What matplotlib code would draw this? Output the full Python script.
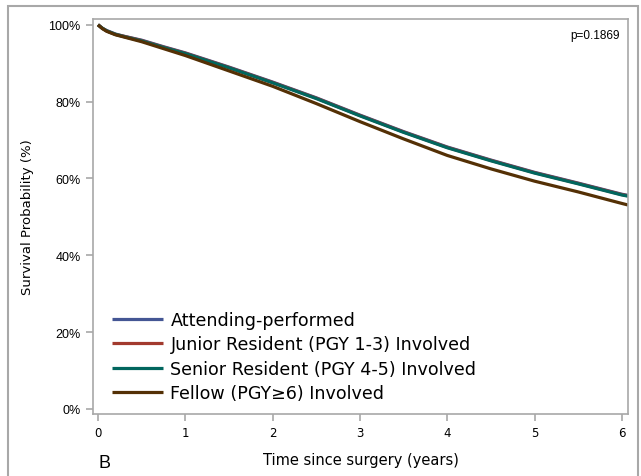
import matplotlib
matplotlib.use("Agg")
import matplotlib.pyplot as plt
from matplotlib.patches import Rectangle

# survival estimates (percent)
years = [0, 0.05, 0.1, 0.2, 0.3, 0.5, 0.75, 1.0, 1.5, 2.0, 2.5, 3.0, 3.5, 4.0, 4.5, 5.0, 5.5, 6.0, 6.07]
attending = [100, 99.1, 98.5, 97.6, 97.0, 96.0, 94.3, 92.7, 89.0, 85.1, 81.0, 76.5, 72.2, 68.2, 64.8, 61.6, 58.8, 55.9, 55.6]
junior = [100, 99.1, 98.4, 97.5, 97.0, 95.9, 94.2, 92.6, 88.9, 85.0, 80.9, 76.4, 72.1, 68.1, 64.7, 61.5, 58.7, 55.8, 55.5]
senior = [100, 99.1, 98.4, 97.5, 96.9, 95.8, 94.1, 92.5, 88.8, 84.9, 80.8, 76.3, 72.0, 68.0, 64.6, 61.4, 58.6, 55.7, 55.4]
fellow = [100, 99.0, 98.3, 97.4, 96.8, 95.6, 93.8, 92.0, 88.0, 84.0, 79.5, 74.8, 70.3, 66.0, 62.5, 59.3, 56.5, 53.5, 53.1]

labels = ["Attending-performed", "Junior Resident (PGY 1-3) Involved",
          "Senior Resident (PGY 4-5) Involved", "Fellow (PGY\u22656) Involved"]
colors = ["#445694", "#A23A2E", "#01665E", "#543005"]
xticks = [0, 1, 2, 3, 4, 5, 6]
yticks = [0, 20, 40, 60, 80, 100]
p_text = "p=0.1869"

fig = plt.figure(figsize=(6.41, 4.77), dpi=100)
fig.patches.append(Rectangle((0.0125, -0.02), 0.983, 1.005, transform=fig.transFigure,
                             fill=False, edgecolor="#a8a8a8", linewidth=1.5))
ax = fig.add_axes([0.1451, 0.130, 0.8346, 0.828])

for ys, lab, col in zip([attending, junior, senior, fellow], labels, colors):
    ax.plot(years, ys, color=col, linewidth=2.3, label=lab, solid_capstyle="butt")

ax.set_xlim(-0.057, 6.07)
ax.set_ylim(-1.3, 101.5)
ax.set_xticks(xticks)
ax.set_yticks(yticks)
ax.set_yticklabels([f"{v}%" for v in yticks], fontsize=9, family="Liberation Sans")
ax.set_xticklabels([str(v) for v in xticks], fontsize=8.5)
for s in ax.spines.values():
    s.set_color("#a8a8a8")
    s.set_linewidth(1.2)
ax.tick_params(color="#a8a8a8", length=5, width=1.2, pad=4)

ax.set_xlabel("Time since surgery (years)", fontsize=10.5, labelpad=9)
ax.set_ylabel("Survival Probability (%)", fontsize=9.5, labelpad=10)
ax.text(0.985, 0.975, p_text, transform=ax.transAxes, ha="right", va="top",
        fontsize=8.5, family="Liberation Sans")
fig.text(0.153, 0.018, "B", fontsize=13, family="Liberation Sans")

ax.legend(loc="lower left", frameon=False, fontsize=12.6, handlelength=2.9,
          handletextpad=0.45, labelspacing=0.36, borderaxespad=0.4,
          bbox_to_anchor=(0.009, -0.005))

fig.savefig("out.png", dpi=100)
